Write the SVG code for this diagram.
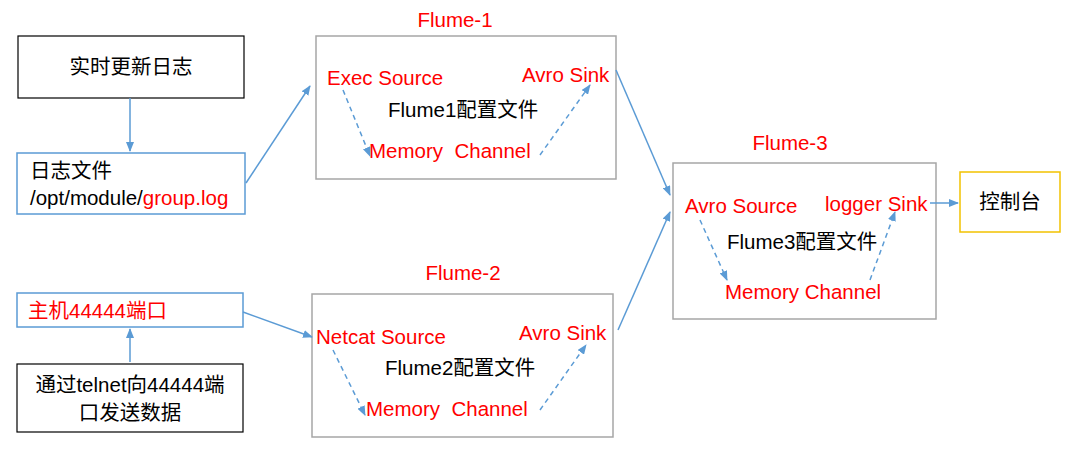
<svg xmlns="http://www.w3.org/2000/svg" width="1085" height="460" viewBox="0 0 1085 460">
<style>
text{font-family:"Liberation Sans","Noto Sans CJK SC",sans-serif;font-size:20.5px;fill:#000}
.r{fill:#ff0000}
.g{fill:#fff;stroke:#a6a6a6;stroke-width:1.5}
.k{fill:#fff;stroke:#000;stroke-width:1.2}
.b{fill:#fff;stroke:#5b9bd5;stroke-width:1.5}
.c{stroke:#5b9bd5;stroke-width:1.5;fill:none;marker-end:url(#a)}
.d{stroke:#5b9bd5;stroke-width:1.5;fill:none;stroke-dasharray:5,4;marker-end:url(#a)}
</style>
<defs><marker id="a" markerWidth="10" markerHeight="8" refX="9" refY="4" orient="auto" markerUnits="userSpaceOnUse"><path d="M0,0L10,4L0,8z" fill="#5b9bd5"/></marker></defs>
<rect width="1085" height="460" fill="#fff"/>
<g id="log"><rect class="k" x="18" y="36" width="226" height="62"/><text x="131" y="74" text-anchor="middle">实时更新日志</text></g>
<g id="file"><rect class="b" x="17" y="153" width="228" height="61"/><text x="30" y="178">日志文件</text><text x="30" y="205">/opt/module/<tspan class="r">group.log</tspan></text></g>
<g id="port"><rect class="b" x="17" y="293" width="226" height="34"/><text x="28" y="318" class="r">主机44444端口</text></g>
<g id="telnet"><rect class="k" x="17" y="364" width="226" height="68"/><text x="130" y="392" text-anchor="middle">通过telnet向44444端</text><text x="130" y="420" text-anchor="middle">口发送数据</text></g>
<g id="flume1"><text x="455" y="27" class="r" text-anchor="middle">Flume-1</text><rect class="g" x="316" y="36" width="300" height="143"/>
<text x="327" y="85" class="r">Exec Source</text><text x="522" y="82" class="r">Avro Sink</text><text x="388" y="117">Flume1配置文件</text><text x="369" y="158" class="r">Memory&#160;&#160;Channel</text></g>
<g id="flume2"><text x="463" y="280" class="r" text-anchor="middle">Flume-2</text><rect class="g" x="312" y="294" width="301" height="143"/>
<text x="316" y="344" class="r">Netcat Source</text><text x="519" y="340" class="r">Avro Sink</text><text x="385" y="375">Flume2配置文件</text><text x="366" y="416" class="r">Memory&#160;&#160;Channel</text></g>
<g id="flume3"><text x="790" y="150" class="r" text-anchor="middle">Flume-3</text><rect class="g" x="673" y="163" width="263" height="156"/>
<text x="685" y="213" class="r">Avro Source</text><text x="825" y="211" class="r">logger Sink</text><text x="727" y="249">Flume3配置文件</text><text x="725" y="299" class="r">Memory Channel</text></g>
<g id="console"><rect x="960" y="172" width="100" height="60" fill="#fff" stroke="#f2c200" stroke-width="1.5"/><text x="1010" y="209" text-anchor="middle">控制台</text></g>
<g id="connectors">
<line class="c" x1="130" y1="98" x2="130" y2="151"/>
<line class="c" x1="246" y1="183" x2="310" y2="86"/>
<line class="c" x1="130" y1="362" x2="130" y2="329"/>
<line class="c" x1="243" y1="312" x2="312" y2="337"/>
<line class="c" x1="616" y1="70" x2="670" y2="195"/>
<line class="c" x1="618" y1="330" x2="670" y2="212"/>
<line class="c" x1="930" y1="203" x2="958" y2="203"/>
<line class="d" x1="343" y1="90" x2="370" y2="156"/>
<line class="d" x1="540" y1="155" x2="590" y2="85"/>
<line class="d" x1="333" y1="350" x2="365" y2="415"/>
<line class="d" x1="540" y1="410" x2="586" y2="345"/>
<line class="d" x1="700" y1="220" x2="727" y2="280"/>
<line class="d" x1="870" y1="280" x2="895" y2="212"/>
</g>
</svg>
